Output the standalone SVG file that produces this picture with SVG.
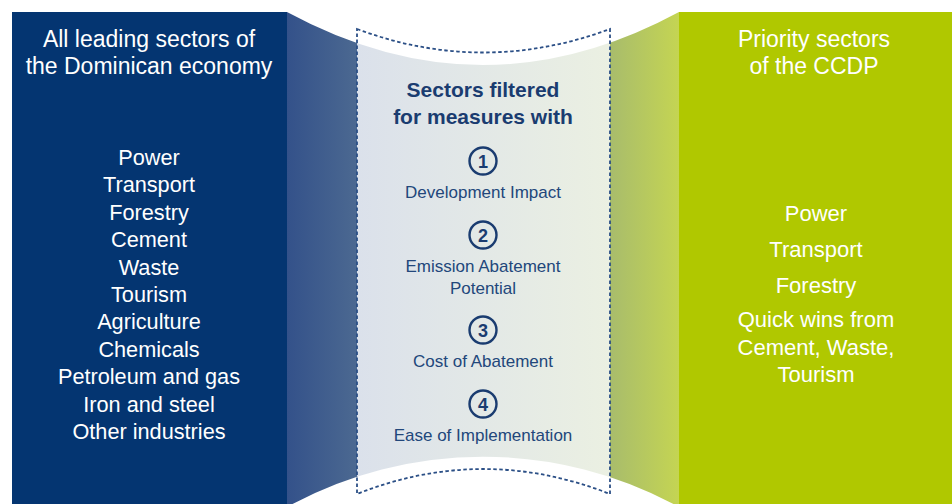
<svg xmlns="http://www.w3.org/2000/svg" width="952" height="504" viewBox="0 0 952 504">
  <style>
    .t { font-family: "Liberation Sans", Arial, sans-serif; text-anchor: middle; }
    .head { font-size: 23px; fill: #ffffff; }
    .item { font-size: 21.7px; fill: #ffffff; }
    .ritem { font-size: 22px; fill: #ffffff; }
    .ctitle { font-size: 21px; font-weight: bold; fill: #1a3c70; }
    .clabel { font-size: 17px; fill: #22477b; }
    .num { font-size: 18px; font-weight: bold; fill: #1a3c70; }
    .ring { fill: none; stroke: #1a3c70; stroke-width: 2.4; }
    .dash { fill: none; stroke: #2b4f86; stroke-width: 1.8; stroke-dasharray: 3.5 2.5; }
  </style>
  <defs>
    <linearGradient id="gBlue" x1="0" y1="0" x2="1" y2="0">
      <stop offset="0" stop-color="#33518a"/>
      <stop offset="1" stop-color="#4c6991"/>
    </linearGradient>
    <linearGradient id="gLight" x1="0" y1="0" x2="1" y2="0">
      <stop offset="0" stop-color="#dbe1eb"/>
      <stop offset="1" stop-color="#ebf0e2"/>
    </linearGradient>
    <linearGradient id="gGreen" x1="0" y1="0" x2="1" y2="0">
      <stop offset="0" stop-color="#a8bc6c"/>
      <stop offset="1" stop-color="#c5d552"/>
    </linearGradient>
    <clipPath id="bandClip">
      <path d="M287,12 Q483,118 679,12 L679,507 A407,407 0 0 0 287,507 Z"/>
    </clipPath>
  </defs>

  <rect width="952" height="504" fill="#ffffff"/>

  <!-- curved band joining the two columns -->
  <g id="transition-band" clip-path="url(#bandClip)">
    <rect x="286" y="0" width="72" height="504" fill="url(#gBlue)"/>
    <rect x="357" y="0" width="254" height="504" fill="url(#gLight)"/>
    <rect x="610" y="0" width="70" height="504" fill="url(#gGreen)"/>
  </g>

  <!-- left column -->
  <g id="left-panel">
    <rect x="12" y="12" width="275" height="492" fill="#043571"/>
    <text class="t head" x="149" y="47">All leading sectors of</text>
    <text class="t head" x="149" y="74">the Dominican economy</text>
    <text class="t item" x="149" y="165">Power</text>
    <text class="t item" x="149" y="192.4">Transport</text>
    <text class="t item" x="149" y="219.8">Forestry</text>
    <text class="t item" x="149" y="247.2">Cement</text>
    <text class="t item" x="149" y="274.6">Waste</text>
    <text class="t item" x="149" y="302">Tourism</text>
    <text class="t item" x="149" y="329.4">Agriculture</text>
    <text class="t item" x="149" y="356.8">Chemicals</text>
    <text class="t item" x="149" y="384.2">Petroleum and gas</text>
    <text class="t item" x="149" y="411.6">Iron and steel</text>
    <text class="t item" x="149" y="439">Other industries</text>
  </g>

  <!-- middle filter -->
  <g id="center-panel">
    <path class="dash" d="M357,29 Q483,76 610,29 L610,494 Q483,444 357,494 Z"/>
    <text class="t ctitle" x="483" y="97">Sectors filtered</text>
    <text class="t ctitle" x="483" y="124">for measures with</text>

    <g id="criterion-1">
      <circle class="ring" cx="483" cy="161" r="13.5"/>
      <text class="t num" x="483" y="167.5">1</text>
      <text class="t clabel" x="483" y="198">Development Impact</text>
    </g>
    <g id="criterion-2">
      <circle class="ring" cx="483" cy="235" r="13.5"/>
      <text class="t num" x="483" y="241.5">2</text>
      <text class="t clabel" x="483" y="272">Emission Abatement</text>
      <text class="t clabel" x="483" y="294">Potential</text>
    </g>
    <g id="criterion-3">
      <circle class="ring" cx="483" cy="330" r="13.5"/>
      <text class="t num" x="483" y="336.5">3</text>
      <text class="t clabel" x="483" y="367">Cost of Abatement</text>
    </g>
    <g id="criterion-4">
      <circle class="ring" cx="483" cy="404" r="13.5"/>
      <text class="t num" x="483" y="410.5">4</text>
      <text class="t clabel" x="483" y="441">Ease of Implementation</text>
    </g>
  </g>

  <!-- right column -->
  <g id="right-panel">
    <rect x="679" y="12" width="273" height="492" fill="#b0c800"/>
    <text class="t head" x="814" y="47">Priority sectors</text>
    <text class="t head" x="814" y="74">of the CCDP</text>
    <text class="t ritem" x="816" y="221">Power</text>
    <text class="t ritem" x="816" y="257">Transport</text>
    <text class="t ritem" x="816" y="293">Forestry</text>
    <text class="t ritem" x="816" y="327">Quick wins from</text>
    <text class="t ritem" x="816" y="355">Cement, Waste,</text>
    <text class="t ritem" x="816" y="382">Tourism</text>
  </g>
</svg>
